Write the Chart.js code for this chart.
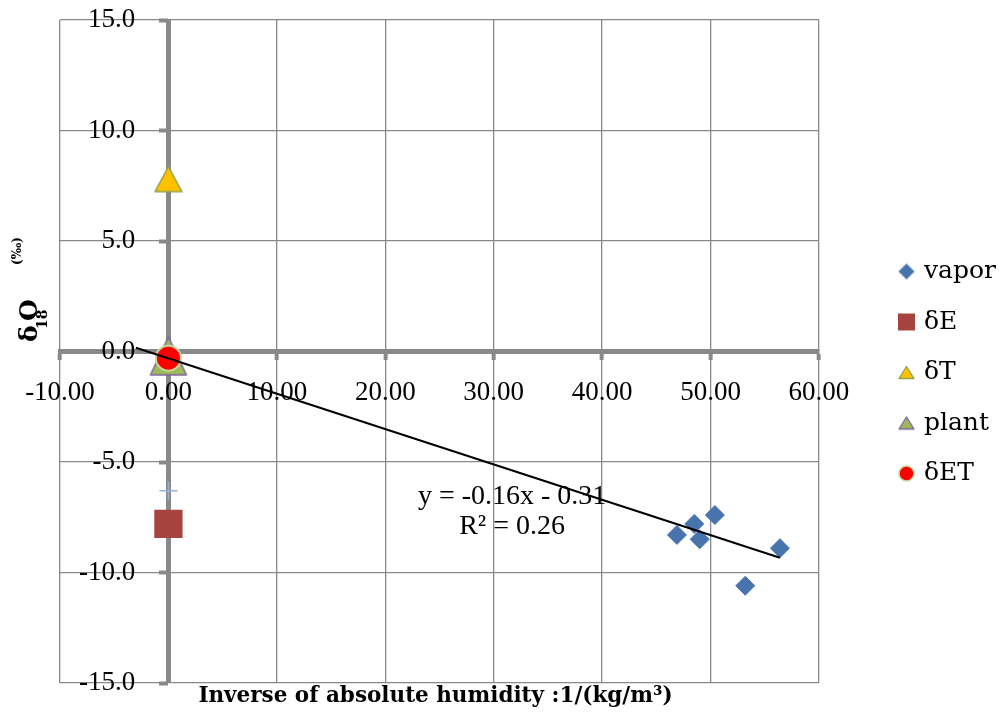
<!DOCTYPE html>
<html>
<head>
<meta charset="utf-8">
<title>δ18O and inverse of absolute humidity</title>
<script src="https://cdn.jsdelivr.net/npm/chart.js@4.4.0/dist/chart.umd.min.js"></script>
<style>
  html, body { margin: 0; padding: 0; background: #fff; }
  #wrap { width: 1006px; height: 724px; }
</style>
</head>
<body>
<div id="wrap"><canvas id="isoChart" width="1006" height="724"></canvas></div>
<script>
// vapor samples: 1/(kg/m3) vs d18O
const vaporX = [46.9, 48.5, 49.0, 50.4, 53.2, 56.4];
const vaporY = [-8.3, -7.8, -8.5, -7.4, -10.6, -8.9];

// end members, all sit on x = 0  [x, y]
const deltaE = [0, -7.8];
const deltaT = [0, 7.8];
const plant = [0, -0.2];
const deltaET = [0, -0.3];
const extraPoint = [0, -6.3];

// linear trend
const trendSlope = -0.16;
const trendIntercept = -0.31;
const trendR2 = 0.26;
const trendFrom = -3;

// axes
const xTicks = [-10, 0, 10, 20, 30, 40, 50, 60];
const yTicks = [-15, -10, -5, 0, 5, 10, 15];

const gridColor = '#898989';
const numFont = 'Liberation Serif';
const textFont = 'DejaVu Serif';

function pt(p) {
    return [{ x: p[0], y: p[1] }];
}

// triangle marker centred on its bounding box
function triangleIcon(w, h, fill, stroke, lw) {
    const pad = Math.ceil(lw * 2) + 1;
    const c = document.createElement('canvas');
    c.width = w + pad * 2;
    c.height = h + pad * 2;
    const g = c.getContext('2d');
    g.beginPath();
    g.moveTo(pad + w / 2, pad);
    g.lineTo(pad + w, pad + h);
    g.lineTo(pad, pad + h);
    g.closePath();
    g.fillStyle = fill;
    g.fill();
    g.lineWidth = lw;
    g.lineJoin = 'round';
    g.strokeStyle = stroke;
    g.stroke();
    return c;
}

// small icons for the legend
function legendIcon(shape, size, fill, stroke, lw) {
    const pad = Math.ceil(lw) + 1;
    const c = document.createElement('canvas');
    c.width = c.height = size + pad * 2;
    const g = c.getContext('2d');
    const m = pad + size / 2;
    g.beginPath();
    if (shape === 'diamond') {
        g.moveTo(m, pad);
        g.lineTo(pad + size, m);
        g.lineTo(m, pad + size);
        g.lineTo(pad, m);
        g.closePath();
    } else if (shape === 'square') {
        g.rect(pad, pad, size, size);
    } else if (shape === 'triangle') {
        g.moveTo(m, pad + size * 0.1);
        g.lineTo(pad + size, pad + size * 0.9);
        g.lineTo(pad, pad + size * 0.9);
        g.closePath();
    } else {
        g.arc(m, m, size / 2, 0, Math.PI * 2);
    }
    g.fillStyle = fill;
    g.fill();
    if (lw > 0) {
        g.lineWidth = lw;
        g.lineJoin = 'round';
        g.strokeStyle = stroke;
        g.stroke();
    }
    return c;
}

const colors = {
    vapor: '#4874ae',
    dE: '#a8443f',
    dT: '#ffc000',
    dTEdge: '#8ea44d',
    plant: '#9bbb59',
    plantEdge: '#7f62a1',
    dET: '#ff0000',
    dETEdge: '#c4d79b',
    extra: '#95b3d7'
};

const legendIcons = {
    0: legendIcon('diamond', 16, colors.vapor, colors.vapor, 0),
    1: legendIcon('square', 17, colors.dE, colors.dE, 0),
    2: legendIcon('triangle', 15, colors.dT, colors.dTEdge, 1.3),
    3: legendIcon('triangle', 15, colors.plant, colors.plantEdge, 1.3),
    4: legendIcon('circle', 15, colors.dET, colors.dETEdge, 1.5)
};

const trendEnd = Math.max(...vaporX);
const trendLine = [trendFrom, trendEnd].map(x => ({ x: x, y: trendSlope * x + trendIntercept }));

function fmtSigned(v) {
    return (v < 0 ? '-' : '') + Math.abs(v).toFixed(2);
}

// axis titles and trend equation
const annotations = {
    id: 'annotations',
    afterDraw(chart) {
        const { ctx, chartArea, scales } = chart;
        ctx.save();
        ctx.fillStyle = '#000';

        // x axis title
        ctx.font = 'bold 21.5px "' + textFont + '"';
        ctx.textAlign = 'center';
        ctx.textBaseline = 'alphabetic';
        ctx.fillText('Inverse of absolute humidity :1/(kg/m³)', (chartArea.left + chartArea.right) / 2 - 4, 702);

        // y axis title, rotated, with subscript
        ctx.save();
        ctx.translate(37, 342);
        ctx.rotate(-Math.PI / 2);
        ctx.textAlign = 'left';
        ctx.font = 'bold 25px "' + textFont + '"';
        ctx.fillText('δ', 0, 0);
        ctx.font = 'bold 14px "' + textFont + '"';
        ctx.fillText('18', 13, 10);
        ctx.font = 'bold 25px "' + textFont + '"';
        ctx.fillText('O', 21, 0);
        ctx.font = 'bold 12px "' + textFont + '"';
        ctx.fillText('(‰)', 77, -16);
        ctx.restore();

        // trend equation
        const tx = scales.x.getPixelForValue(31.7);
        const ty = scales.y.getPixelForValue(-6.9);
        ctx.font = '28px "' + numFont + '"';
        ctx.textAlign = 'center';
        ctx.fillText('y = ' + fmtSigned(trendSlope) + 'x ' + (trendIntercept < 0 ? '-' : '+') + ' ' +
            Math.abs(trendIntercept).toFixed(2), tx, ty);
        ctx.fillText('R² = ' + trendR2.toFixed(2), tx, ty + 30);
        ctx.restore();
    }
};

const zeroWide = c => (c.tick && c.tick.value === 0) ? 5 : 1.3;

const ctx = document.getElementById('isoChart').getContext('2d');
new Chart(ctx, {
    type: 'scatter',
    data: {
        datasets: [
            {
                label: 'vapor',
                data: vaporX.map((x, i) => ({ x: x, y: vaporY[i] })),
                pointStyle: 'rectRot',
                pointRadius: 9.5,
                backgroundColor: colors.vapor,
                borderColor: colors.vapor,
                borderWidth: 1,
                order: 6
            },
            {
                label: 'δE',
                data: pt(deltaE),
                pointStyle: 'rect',
                pointRadius: 20,
                backgroundColor: colors.dE,
                borderColor: colors.dE,
                borderWidth: 0,
                order: 4
            },
            {
                label: 'δT',
                data: pt(deltaT),
                pointStyle: triangleIcon(27, 25, colors.dT, colors.dTEdge, 1.5),
                pointRadius: 14,
                order: 3
            },
            {
                label: 'plant',
                data: pt(plant),
                pointStyle: triangleIcon(36, 38, colors.plant, colors.plantEdge, 1.5),
                pointRadius: 19,
                order: 2
            },
            {
                label: 'δET',
                data: pt(deltaET),
                pointStyle: 'circle',
                pointRadius: 12.5,
                backgroundColor: colors.dET,
                borderColor: colors.dETEdge,
                borderWidth: 2,
                order: 1
            },
            {
                label: 'extra',
                data: pt(extraPoint),
                pointStyle: 'cross',
                pointRadius: 9,
                borderColor: colors.extra,
                borderWidth: 1.5,
                order: 5
            },
            {
                label: 'trend',
                data: trendLine,
                showLine: true,
                pointRadius: 0,
                borderColor: '#000',
                borderWidth: 2,
                order: 0
            }
        ]
    },
    options: {
        responsive: false,
        animation: false,
        events: [],
        layout: {
            padding: { left: 60, top: 20, right: 0, bottom: 41 }
        },
        scales: {
            x: {
                type: 'linear',
                position: { y: 0 },
                min: -10,
                max: 60,
                afterBuildTicks: s => { s.ticks = xTicks.map(v => ({ value: v })); },
                grid: {
                    color: gridColor,
                    lineWidth: zeroWide,
                    drawTicks: true,
                    tickLength: 6,
                    tickWidth: 4,
                    tickColor: gridColor
                },
                border: { display: true, color: gridColor, width: 5 },
                ticks: {
                    padding: 19,
                    color: '#000',
                    maxRotation: 0,
                    autoSkip: false,
                    font: { family: numFont, size: 27 },
                    callback: v => v.toFixed(2)
                }
            },
            y: {
                type: 'linear',
                position: 'left',
                min: -15,
                max: 15,
                afterBuildTicks: s => { s.ticks = yTicks.map(v => ({ value: v })); },
                afterFit: s => {
                    s.width = 0;
                    s.paddingTop = 0;
                    s.paddingBottom = 0;
                },
                grid: {
                    color: gridColor,
                    lineWidth: zeroWide,
                    drawTicks: false
                },
                border: { display: false },
                ticks: {
                    mirror: true,
                    crossAlign: 'far',
                    padding: 19,
                    color: '#000',
                    font: { family: numFont, size: 27 },
                    callback: v => v.toFixed(1)
                }
            },
            // tick marks along the vertical zero line
            yMarks: {
                type: 'linear',
                axis: 'y',
                position: { x: 0 },
                min: -15,
                max: 15,
                afterBuildTicks: s => { s.ticks = yTicks.map(v => ({ value: v })); },
                grid: {
                    drawOnChartArea: false,
                    drawTicks: true,
                    tickLength: 9,
                    tickWidth: 4,
                    tickColor: gridColor
                },
                border: { display: false },
                ticks: { display: false }
            },
            // empty strip between plot and legend
            gap: {
                type: 'linear',
                axis: 'y',
                position: 'right',
                afterFit: s => { s.width = 57; },
                grid: { display: false },
                border: { display: false },
                ticks: { display: false }
            }
        },
        plugins: {
            tooltip: { enabled: false },
            legend: {
                position: 'right',
                align: 'center',
                maxWidth: 200,
                title: { display: true, text: '', padding: 0, font: { size: 10, lineHeight: 4.2 } },
                labels: {
                    usePointStyle: true,
                    boxWidth: 10,
                    padding: 25.5,
                    color: '#000',
                    font: { family: textFont, size: 25 },
                    generateLabels: chart => {
                        const items = Chart.defaults.plugins.legend.labels.generateLabels(chart);
                        return items
                            .filter(it => legendIcons[it.datasetIndex])
                            .map(it => { it.pointStyle = legendIcons[it.datasetIndex]; return it; });
                    },
                    sort: (a, b) => a.datasetIndex - b.datasetIndex
                }
            }
        }
    },
    plugins: [annotations]
});
</script>
</body>
</html>
